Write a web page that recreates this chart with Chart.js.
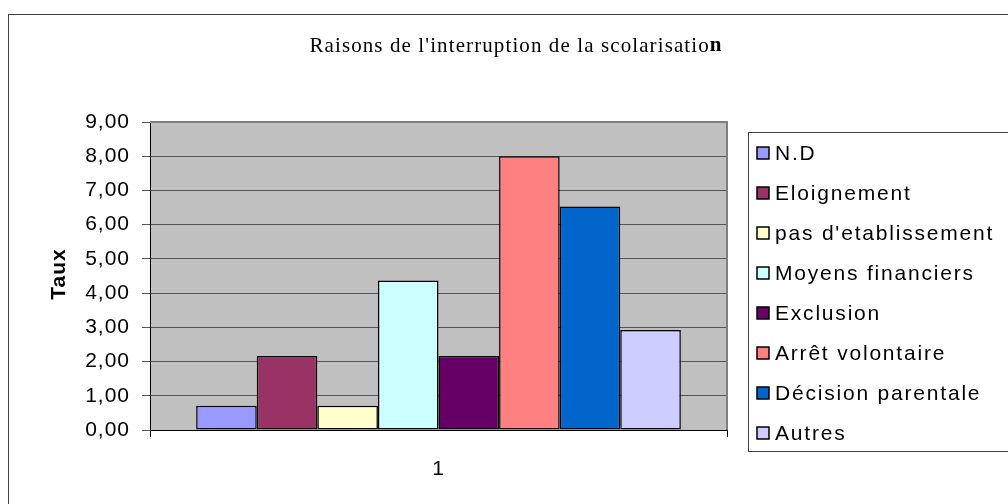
<!DOCTYPE html>
<html>
<head>
<meta charset="utf-8">
<script src="https://cdn.jsdelivr.net/npm/chart.js@4/dist/chart.umd.min.js"></script>
<style>
  body { margin: 0; background: #fff; }
  canvas { display: block; }
</style>
</head>
<body>
<canvas id="myChart" width="1008" height="504"></canvas>
<script>
// ====== Raisons de l'interruption de la scolarisation ======

const categories = ["1"];
const series = [
  "N.D",
  "Eloignement",
  "pas d'etablissement",
  "Moyens financiers",
  "Exclusion",
  "Arrêt volontaire",
  "Décision parentale",
  "Autres",
];
const values = [0.71, 2.16, 0.71, 4.37, 2.16, 8.0, 6.53, 2.92];
const colors = [
  "#9999FF",
  "#993366",
  "#FFFFCC",
  "#CCFFFF",
  "#660066",
  "#FF8080",
  "#0066CC",
  "#CCCCFF",
];
const yTicks = [0, 1, 2, 3, 4, 5, 6, 7, 8, 9];

const sans = "'Liberation Sans', Arial, sans-serif";
const serif = "'Liberation Serif', 'Times New Roman', serif";

let datasets = [];
for (let i = 0; i < series.length; i++) {
  datasets.push({
    label: series[i],
    data: [values[i]],
    backgroundColor: colors[i],
    borderColor: "#000",
    borderWidth: 1.5,
    borderSkipped: false,
    categoryPercentage: 0.84,
    barPercentage: 1,
  });
}

// frame, gray plot background, title, legend
const decor = {
  id: "decor",
  beforeDraw(chart) {
    const ctx = chart.ctx;
    const a = chart.chartArea;
    ctx.fillStyle = "#fff";
    ctx.fillRect(0, 0, chart.width, chart.height);
    ctx.strokeStyle = "#404040";
    ctx.lineWidth = 1;
    ctx.strokeRect(8.5, 14.5, 1100, 600);
    ctx.fillStyle = "#C0C0C0";
    ctx.fillRect(a.left, a.top, a.right - a.left, a.bottom - a.top);
    // excel-like wide text for the axis labels
    ctx.letterSpacing = "1px";
  },
  afterDraw(chart) {
    const ctx = chart.ctx;
    const a = chart.chartArea;
    ctx.save();
    // plot border top / right
    ctx.strokeStyle = "#808080";
    ctx.lineWidth = 2;
    ctx.beginPath();
    ctx.moveTo(a.left, a.top);
    ctx.lineTo(a.right, a.top);
    ctx.lineTo(a.right, a.bottom);
    ctx.stroke();

    // title, last letter bold
    const t1 = "Raisons de l'interruption de la scolarisatio";
    const t2 = "n";
    ctx.fillStyle = "#000";
    ctx.textBaseline = "middle";
    ctx.textAlign = "left";
    ctx.letterSpacing = "1.1px";
    ctx.font = "21px " + serif;
    const w1 = ctx.measureText(t1).width;
    ctx.font = "bold 21px " + serif;
    const w2 = ctx.measureText(t2).width;
    const x0 = 516 - (w1 + w2) / 2;
    ctx.font = "21px " + serif;
    ctx.fillText(t1, x0, 46);
    ctx.font = "bold 21px " + serif;
    ctx.fillText(t2, x0 + w1, 46);

    // y axis title
    ctx.save();
    ctx.translate(59, 274);
    ctx.rotate(-Math.PI / 2);
    ctx.textAlign = "center";
    ctx.letterSpacing = "1px";
    ctx.font = "bold 21px " + sans;
    ctx.fillText("Taux", 0, 0);
    ctx.restore();

    // legend
    ctx.strokeStyle = "#404040";
    ctx.lineWidth = 1;
    ctx.strokeRect(748.5, 132.5, 300, 319);
    ctx.font = "21px " + sans;
    ctx.letterSpacing = "1.8px";
    chart.data.datasets.forEach((ds, i) => {
      const y = 153 + i * 40;
      ctx.fillStyle = ds.backgroundColor;
      ctx.fillRect(757, y - 6, 12, 12);
      ctx.strokeStyle = "#000";
      ctx.lineWidth = 1.5;
      ctx.strokeRect(757, y - 6, 12, 12);
      ctx.fillStyle = "#000";
      ctx.fillText(ds.label, 775, y + 1);
    });
    ctx.restore();
  },
};

let ctx = document.getElementById("myChart").getContext("2d");
let graphie = new Chart(ctx, {
  type: "bar",
  data: {
    labels: categories,
    datasets: datasets,
  },
  options: {
    responsive: false,
    animation: false,
    layout: {
      padding: { left: 0, top: 122, right: 281, bottom: 0 },
    },
    plugins: {
      legend: { display: false },
      tooltip: { enabled: false },
    },
    scales: {
      x: {
        offset: true,
        afterFit: (scale) => {
          scale.height = 74;
        },
        grid: {
          drawOnChartArea: false,
          tickLength: 7,
          color: "#000",
        },
        border: { color: "#000", width: 1 },
        ticks: {
          color: "#000",
          font: { family: sans, size: 21 },
          padding: 20,
        },
      },
      y: {
        min: 0,
        max: 9,
        afterFit: (scale) => {
          scale.width = 150;
        },
        afterBuildTicks: (scale) => {
          scale.ticks = yTicks.map((v) => ({ value: v }));
        },
        grid: {
          color: "#555",
          tickLength: 8,
          tickColor: "#555",
        },
        border: { color: "#000", width: 1 },
        ticks: {
          color: "#000",
          font: { family: sans, size: 21 },
          padding: 12,
          callback: (v) => v.toFixed(2).replace(".", ","),
        },
      },
    },
  },
  plugins: [decor],
});
</script>
</body>
</html>
